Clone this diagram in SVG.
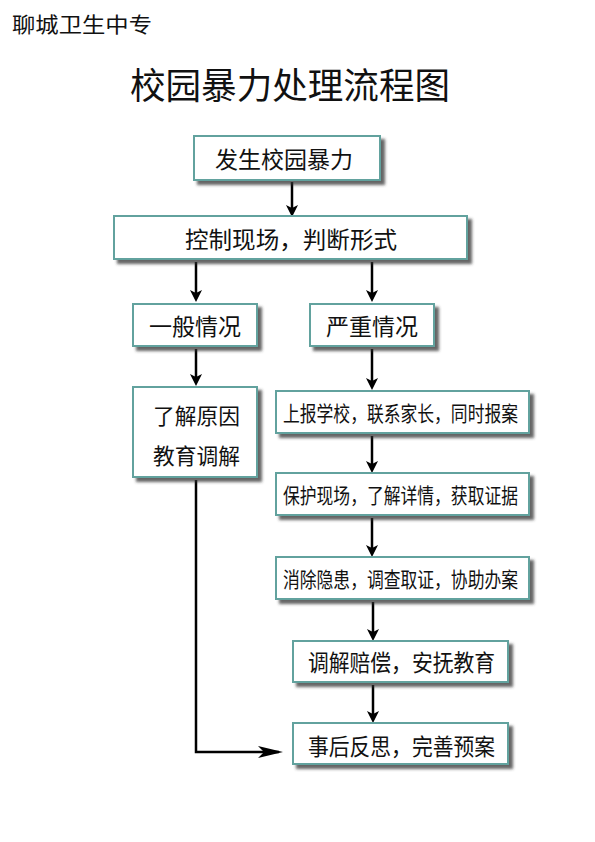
<svg xmlns="http://www.w3.org/2000/svg" width="595" height="842" viewBox="0 0 595 842">
<style>
.box{fill:#fff;stroke:#62a29e;stroke-width:2;filter:url(#sh)}
.t{font-family:"Noto Sans CJK SC","Noto Sans CJK JP",sans-serif;fill:#111;dominant-baseline:central}
.c{fill:none;stroke:#000;stroke-width:2.5}
</style>
<defs>
<filter id="sh" x="-10%" y="-10%" width="130%" height="140%">
<feDropShadow dx="4" dy="4" stdDeviation="1.5" flood-color="#333" flood-opacity="0.75"/>
</filter>
<marker id="a" viewBox="0 0 12 12" refX="8" refY="6" markerWidth="12" markerHeight="12" markerUnits="userSpaceOnUse" orient="auto">
<path d="M0,0 L12,6 L0,12 L3,6 Z" fill="#000"/>
</marker>
<marker id="b" viewBox="0 0 25 12" refX="21" refY="6" markerWidth="25" markerHeight="12" markerUnits="userSpaceOnUse" orient="auto">
<path d="M0,0 L25,6 L0,12 L6,6 Z" fill="#000"/>
</marker>
</defs>
<rect width="595" height="842" fill="#fff"/>
<text class="t" x="12" y="23" font-size="21" textLength="140" lengthAdjust="spacingAndGlyphs">聊城卫生中专</text>
<text class="t" x="130" y="83" font-size="36" textLength="320" lengthAdjust="spacingAndGlyphs">校园暴力处理流程图</text>

<g id="connectors">
<path class="c" d="M292,182 V213" marker-end="url(#a)"/>
<path class="c" d="M196,262 V298" marker-end="url(#a)"/>
<path class="c" d="M372,262 V298" marker-end="url(#a)"/>
<path class="c" d="M196,349 V382" marker-end="url(#a)"/>
<path class="c" d="M372,349 V386" marker-end="url(#a)"/>
<path class="c" d="M372,436 V469" marker-end="url(#a)"/>
<path class="c" d="M372,518 V553" marker-end="url(#a)"/>
<path class="c" d="M373,602 V637" marker-end="url(#a)"/>
<path class="c" d="M373,685 V719" marker-end="url(#a)"/>
<path class="c" d="M196,480 V752 H279" marker-end="url(#b)"/>
</g>

<g id="n1"><rect class="box" x="194" y="136" width="186" height="44"/>
<text class="t" x="215" y="158" font-size="23" textLength="138" lengthAdjust="spacingAndGlyphs">发生校园暴力</text></g>
<g id="n2"><rect class="box" x="114" y="216" width="353" height="43"/>
<text class="t" x="185" y="238" font-size="23" textLength="212" lengthAdjust="spacingAndGlyphs">控制现场，判断形式</text></g>
<g id="n3"><rect class="box" x="133" y="304" width="124" height="42"/>
<text class="t" x="149" y="325" font-size="23" textLength="92" lengthAdjust="spacingAndGlyphs">一般情况</text></g>
<g id="n4"><rect class="box" x="310" y="304" width="124" height="42"/>
<text class="t" x="326" y="325" font-size="23" textLength="92" lengthAdjust="spacingAndGlyphs">严重情况</text></g>
<g id="n5"><rect class="box" x="133" y="387" width="124" height="90"/>
<text class="t" x="153" y="414" font-size="22" textLength="87" lengthAdjust="spacingAndGlyphs">了解原因</text>
<text class="t" x="153" y="454" font-size="22" textLength="87" lengthAdjust="spacingAndGlyphs">教育调解</text></g>
<g id="n6"><rect class="box" x="276" y="391" width="253" height="42"/>
<text class="t" x="283" y="412" font-size="21" textLength="235" lengthAdjust="spacingAndGlyphs">上报学校，联系家长，同时报案</text></g>
<g id="n7"><rect class="box" x="276" y="473" width="253" height="42"/>
<text class="t" x="283" y="494" font-size="21" textLength="235" lengthAdjust="spacingAndGlyphs">保护现场，了解详情，获取证据</text></g>
<g id="n8"><rect class="box" x="276" y="557" width="253" height="42"/>
<text class="t" x="283" y="578" font-size="21" textLength="235" lengthAdjust="spacingAndGlyphs">消除隐患，调查取证，协助办案</text></g>
<g id="n9"><rect class="box" x="293" y="641" width="215" height="41"/>
<text class="t" x="308" y="661" font-size="23" textLength="187" lengthAdjust="spacingAndGlyphs">调解赔偿，安抚教育</text></g>
<g id="n10"><rect class="box" x="293" y="723" width="215" height="41"/>
<text class="t" x="308" y="745" font-size="23" textLength="187" lengthAdjust="spacingAndGlyphs">事后反思，完善预案</text></g>
</svg>
